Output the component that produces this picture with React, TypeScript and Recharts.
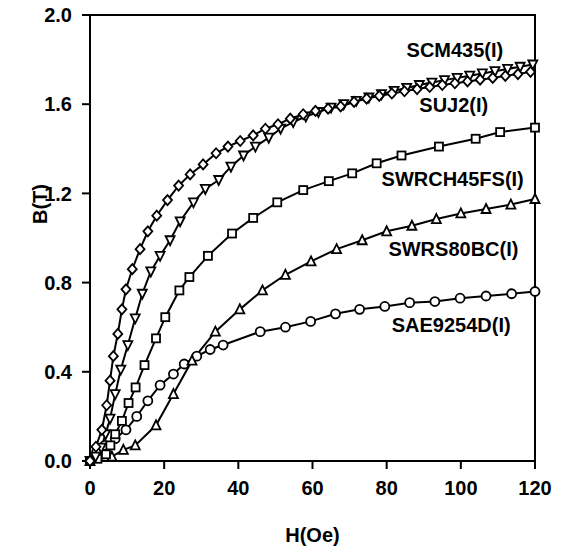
import React from "react";
import {
  LineChart,
  Line,
  XAxis,
  YAxis,
  ReferenceArea,
  ReferenceDot,
} from "recharts";

// H (Oe) and B (T) readings per steel grade
const suj2H = [0, 1.6, 3.2, 4.5, 5.4, 6.3, 7.5, 8.6, 9.7, 11.4, 13.5, 15.6, 18, 20.9, 23.9, 27, 30.5, 34, 37.2, 40.5, 44, 47.3, 50.7, 54, 57.5, 60.8, 64.2, 67.6, 71.2, 74.6, 78, 81.4, 84.8, 88.2, 91.6, 95, 98.4, 101.8, 105.2, 108.6, 112, 115.4, 118.8];
const suj2B = [0, 0.064, 0.14, 0.25, 0.36, 0.47, 0.57, 0.68, 0.77, 0.86, 0.95, 1.03, 1.1, 1.17, 1.235, 1.285, 1.33, 1.38, 1.41, 1.435, 1.46, 1.49, 1.51, 1.535, 1.555, 1.57, 1.58, 1.59, 1.61, 1.625, 1.637, 1.648, 1.658, 1.668, 1.677, 1.686, 1.694, 1.702, 1.71, 1.718, 1.727, 1.735, 1.745];

const scm435H = [0, 1.5, 3, 4.2, 5.4, 6.8, 8.3, 10.2, 12.2, 14.1, 16.4, 18.9, 21.6, 24.3, 27.9, 31.1, 34.7, 38, 41.4, 44.6, 48.2, 51.4, 54.8, 58.2, 61.6, 65, 68.4, 71.8, 75.2, 78.6, 82, 85.4, 88.8, 92.2, 95.6, 99, 102.4, 105.8, 109.2, 112.6, 116, 119.4];
const scm435B = [0, 0.02, 0.06, 0.12, 0.19, 0.3, 0.41, 0.52, 0.64, 0.75, 0.85, 0.92, 0.99, 1.075, 1.16, 1.22, 1.26, 1.32, 1.37, 1.41, 1.45, 1.49, 1.52, 1.545, 1.565, 1.585, 1.6, 1.615, 1.63, 1.645, 1.66, 1.673, 1.686, 1.697, 1.708, 1.718, 1.728, 1.738, 1.748, 1.758, 1.768, 1.778];

const swrch45fsH = [0, 2, 4.3, 5.5, 6.8, 8.6, 10.4, 12.3, 14.7, 17.8, 20.3, 24.1, 26.8, 31.8, 38.3, 44, 50.5, 57.5, 64.4, 70.7, 77.3, 84, 94.1, 104, 110.6, 120];
const swrch45fsB = [0, 0.01, 0.03, 0.07, 0.12, 0.18, 0.26, 0.33, 0.43, 0.55, 0.645, 0.765, 0.825, 0.92, 1.02, 1.09, 1.16, 1.215, 1.255, 1.29, 1.335, 1.37, 1.41, 1.445, 1.475, 1.495];

const swrs80bcH = [0, 5.9, 9, 12.2, 17.8, 22.5, 27.5, 33.8, 40.4, 46.5, 52.7, 59.6, 66.5, 73.4, 80, 86.8, 93.4, 100, 106.8, 113.5, 120];
const swrs80bcB = [0, 0.02, 0.05, 0.07, 0.16, 0.3, 0.45, 0.58, 0.68, 0.765, 0.835, 0.895, 0.95, 0.99, 1.03, 1.055, 1.085, 1.11, 1.13, 1.15, 1.175];

const sae9254dH = [0, 1.8, 4, 6.8, 9.7, 12.6, 15.6, 18.9, 22.5, 25.4, 28.8, 32.4, 35.9, 45.9, 52.7, 59.5, 66.2, 72.7, 79.5, 86.2, 93, 99.8, 106.8, 113.7, 120];
const sae9254dB = [0, 0.04, 0.07, 0.1, 0.14, 0.2, 0.27, 0.34, 0.39, 0.435, 0.47, 0.5, 0.52, 0.58, 0.6, 0.626, 0.66, 0.68, 0.693, 0.71, 0.715, 0.73, 0.74, 0.75, 0.76];

const xTicks = [0, 20, 40, 60, 80, 100, 120];
const yTicks = [0, 0.4, 0.8, 1.2, 1.6, 2.0];

// curve labels: name, anchor H, anchor B
const labelNames = ["SCM435(I)", "SUJ2(I)", "SWRCH45FS(I)", "SWRS80BC(I)", "SAE9254D(I)"];
const labelH = [98.4, 98.1, 97.8, 98, 97.4];
const labelB = [1.843, 1.596, 1.263, 0.953, 0.611];

const zip = (h: number[], b: number[]) => h.map((v, i) => ({ h: v, b: b[i] }));

const font = "'Liberation Sans', Arial, sans-serif";
const textStyle = { fontFamily: font, fontWeight: "bold", fontSize: 20, fill: "#000" };
const mk = { fill: "#fff", stroke: "#000", strokeWidth: 1.8 };

const diamondDot = (p: any) => {
  const { cx, cy, index } = p;
  return <path key={index} d={`M${cx},${cy - 5}L${cx + 4.5},${cy}L${cx},${cy + 5}L${cx - 4.5},${cy}Z`} {...mk} />;
};
const downTriDot = (p: any) => {
  const { cx, cy, index } = p;
  return <path key={index} d={`M${cx - 4.5},${cy - 4}L${cx + 4.5},${cy - 4}L${cx},${cy + 5}Z`} {...mk} />;
};
const upTriDot = (p: any) => {
  const { cx, cy, index } = p;
  return <path key={index} d={`M${cx},${cy - 5}L${cx + 4.5},${cy + 4}L${cx - 4.5},${cy + 4}Z`} {...mk} />;
};
const squareDot = (p: any) => {
  const { cx, cy, index } = p;
  return <rect key={index} x={cx - 4} y={cy - 4} width={8} height={8} {...mk} />;
};
const circleDot = (p: any) => {
  const { cx, cy, index } = p;
  return <circle key={index} cx={cx} cy={cy} r={4.5} {...mk} />;
};

const YLabel = (props: any) => {
  const { viewBox } = props;
  const x = viewBox.x + 40;
  const y = viewBox.y + viewBox.height / 2 - 34;
  return (
    <text x={x} y={y} transform={`rotate(-90 ${x} ${y})`} textAnchor="middle" dominantBaseline="central" {...textStyle}>
      B(T)
    </text>
  );
};

export default function App() {
  return (
    <div style={{ position: "absolute", left: 0, top: 0 }}>
      <LineChart width={562} height={546} margin={{ top: 15, right: 27, left: 0, bottom: 0 }}>
        <XAxis
          type="number"
          dataKey="h"
          domain={[0, 120]}
          ticks={xTicks}
          interval={0}
          height={85}
          tickSize={8}
          tickMargin={12}
          tick={textStyle}
          axisLine={{ stroke: "#000", strokeWidth: 2 }}
          tickLine={{ stroke: "#000", strokeWidth: 2 }}
          label={{ value: "H(Oe)", position: "insideBottom", offset: 4, style: textStyle }}
        />
        <YAxis
          type="number"
          domain={[0, 2]}
          ticks={yTicks}
          interval={0}
          width={90}
          tickSize={8}
          tickMargin={10}
          tick={textStyle}
          tickFormatter={(v: number) => v.toFixed(1)}
          axisLine={{ stroke: "#000", strokeWidth: 2 }}
          tickLine={{ stroke: "#000", strokeWidth: 2 }}
          label={<YLabel />}
        />
        <ReferenceArea x1={0} x2={120} y1={0} y2={2} fill="none" stroke="#000" strokeWidth={2} />
        <Line data={zip(sae9254dH, sae9254dB)} dataKey="b" type="linear" stroke="#000" strokeWidth={2} dot={circleDot} isAnimationActive={false} />
        <Line data={zip(swrs80bcH, swrs80bcB)} dataKey="b" type="linear" stroke="#000" strokeWidth={2} dot={upTriDot} isAnimationActive={false} />
        <Line data={zip(swrch45fsH, swrch45fsB)} dataKey="b" type="linear" stroke="#000" strokeWidth={2} dot={squareDot} isAnimationActive={false} />
        <Line data={zip(scm435H, scm435B)} dataKey="b" type="linear" stroke="#000" strokeWidth={2} dot={downTriDot} isAnimationActive={false} />
        <Line data={zip(suj2H, suj2B)} dataKey="b" type="linear" stroke="#000" strokeWidth={2} dot={diamondDot} isAnimationActive={false} />
        {labelNames.map((name, i) => (
          <ReferenceDot
            key={name}
            x={labelH[i]}
            y={labelB[i]}
            r={0}
            fill="none"
            stroke="none"
            label={{ value: name, position: "center", style: textStyle }}
          />
        ))}
      </LineChart>
    </div>
  );
}
